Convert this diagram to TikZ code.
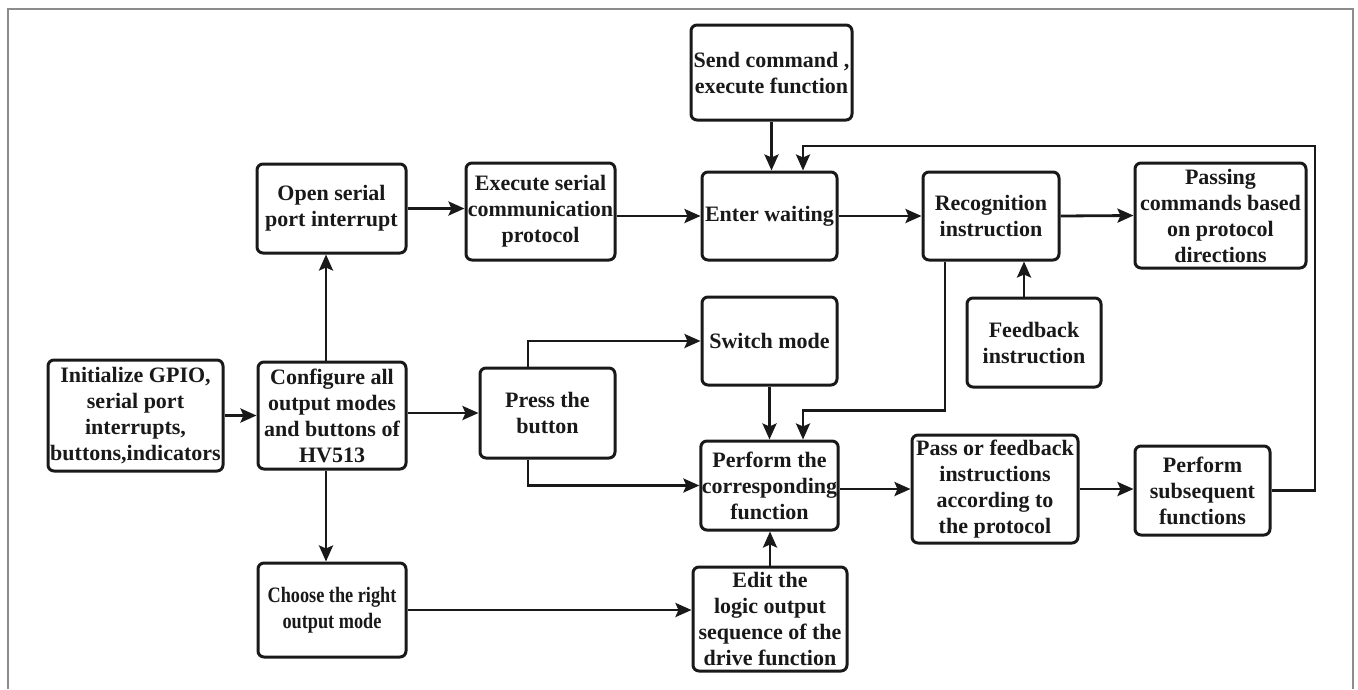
\documentclass[tikz,border=0pt]{standalone}
\usepackage{fontspec}
\setmainfont{Liberation Serif}
\usepackage{graphicx}
\usetikzlibrary{arrows.meta}

\tikzset{
	stepbox/.style={draw=black!90, line width=3pt, rounded corners=6pt, align=center,
		inner sep=1pt, font=\fontsize{22}{26}\selectfont\bfseries, text=black!90},
	flow/.style={line width=2.8pt, draw=black!90, -{Stealth[length=16pt,width=14pt,inset=3pt]}},
	frameline/.style={draw=black!45, line width=1.2pt}
}

\begin{document}
\begin{tikzpicture}[x=1pt,y=-1pt]
	\useasboundingbox (0,0) rectangle (1358,689);
	\draw[frameline] (8,689) -- (8,9) -- (1353,9) -- (1353,689);

	% left column
	\node[stepbox, minimum width=175pt, minimum height=111pt] (init) at (135.5,415.5) {Initialize GPIO,\\serial port\\interrupts,\\buttons,indicators};
	\node[stepbox, minimum width=148pt, minimum height=107pt] (config) at (332,415.5) {Configure all\\output modes\\and buttons of\\HV513};
	\node[stepbox, minimum width=149pt, minimum height=89pt] (open) at (331.5,208.5) {Open serial\\port interrupt};
	\node[stepbox, minimum width=148pt, minimum height=94pt] (choose) at (332,610) {\scalebox{0.83}[1]{Choose the right}\\\scalebox{0.83}[1]{output mode}};

	% middle
	\node[stepbox, minimum width=149pt, minimum height=97pt] (exec) at (540.5,211.5) {Execute serial\\communication\\protocol};
	\node[stepbox, minimum width=135pt, minimum height=90pt] (press) at (547.5,413) {Press the\\button};
	\node[stepbox, minimum width=161pt, minimum height=95pt] (send) at (771.5,72.5) {Send command ,\\execute function};
	\node[stepbox, minimum width=135pt, minimum height=88pt] (enter) at (769.5,216) {Enter waiting};
	\node[stepbox, minimum width=135pt, minimum height=88pt] (switch) at (769.5,341) {Switch mode};
	\node[stepbox, minimum width=135pt, minimum height=89pt] (perform) at (769.5,485.5) {Perform the\\corresponding\\function};
	\node[stepbox, minimum width=154pt, minimum height=104pt] (edit) at (770,619) {Edit the\\logic output\\sequence of the\\drive function};

	% right
	\node[stepbox, minimum width=136pt, minimum height=88pt] (recog) at (991,216) {Recognition\\instruction};
	\node[stepbox, minimum width=134pt, minimum height=89pt] (feedback) at (1034,342.5) {Feedback\\instruction};
	\node[stepbox, minimum width=166pt, minimum height=108pt] (pass) at (995,489) {Pass or feedback\\instructions\\according to\\the protocol};
	\node[stepbox, minimum width=171pt, minimum height=105pt] (passing) at (1220.5,215.5) {Passing\\commands based\\on protocol\\directions};
	\node[stepbox, minimum width=135pt, minimum height=89pt] (subseq) at (1202.5,490.5) {Perform\\subsequent\\functions};

	\coordinate (loop) at (1315,146);

	% connectors
	\draw[flow] (init.east) -- (config.west);
	\draw[flow] ([xshift=-6pt]config.north) -- ([xshift=-6pt]config.north |- open.south);
	\draw[flow] ([xshift=-6pt]config.south) -- ([xshift=-6pt]config.south |- choose.north);
	\draw[flow] (open.east) -- (open.east -| exec.west);
	\draw[flow] (enter.west -| exec.east) -- (enter.west);
	\draw[flow] (send.south) -- (send.south |- enter.north);
	\draw[flow] (enter.east) -- (recog.west);
	\draw[flow] (recog.east) -- (passing.west);
	\draw[flow] ([xshift=-10pt]feedback.north) -- ([xshift=-10pt]feedback.north |- recog.south);
	\draw[flow] ([xshift=-46pt]recog.south) -- ++(0,149) -| ([xshift=33.5pt]perform.north);
	\draw[flow] (switch.south) -- (perform.north);
	\draw[flow] (press.west -| config.east) -- (press.west);
	\draw[flow] ([xshift=-19.5pt]press.north) |- (switch.west);
	\draw[flow] ([xshift=-19.5pt]press.south) |- (perform.west);
	\draw[flow] (choose.east) -- (choose.east -| edit.west);
	\draw[flow] (edit.north) -- (edit.north |- perform.south);
	\draw[flow] (pass.west -| perform.east) -- (pass.west);
	\draw[flow] (pass.east) -- (pass.east -| subseq.west);
	\draw[flow] (subseq.east) -| (loop) -| ([xshift=33.5pt]enter.north);
\end{tikzpicture}
\end{document}
